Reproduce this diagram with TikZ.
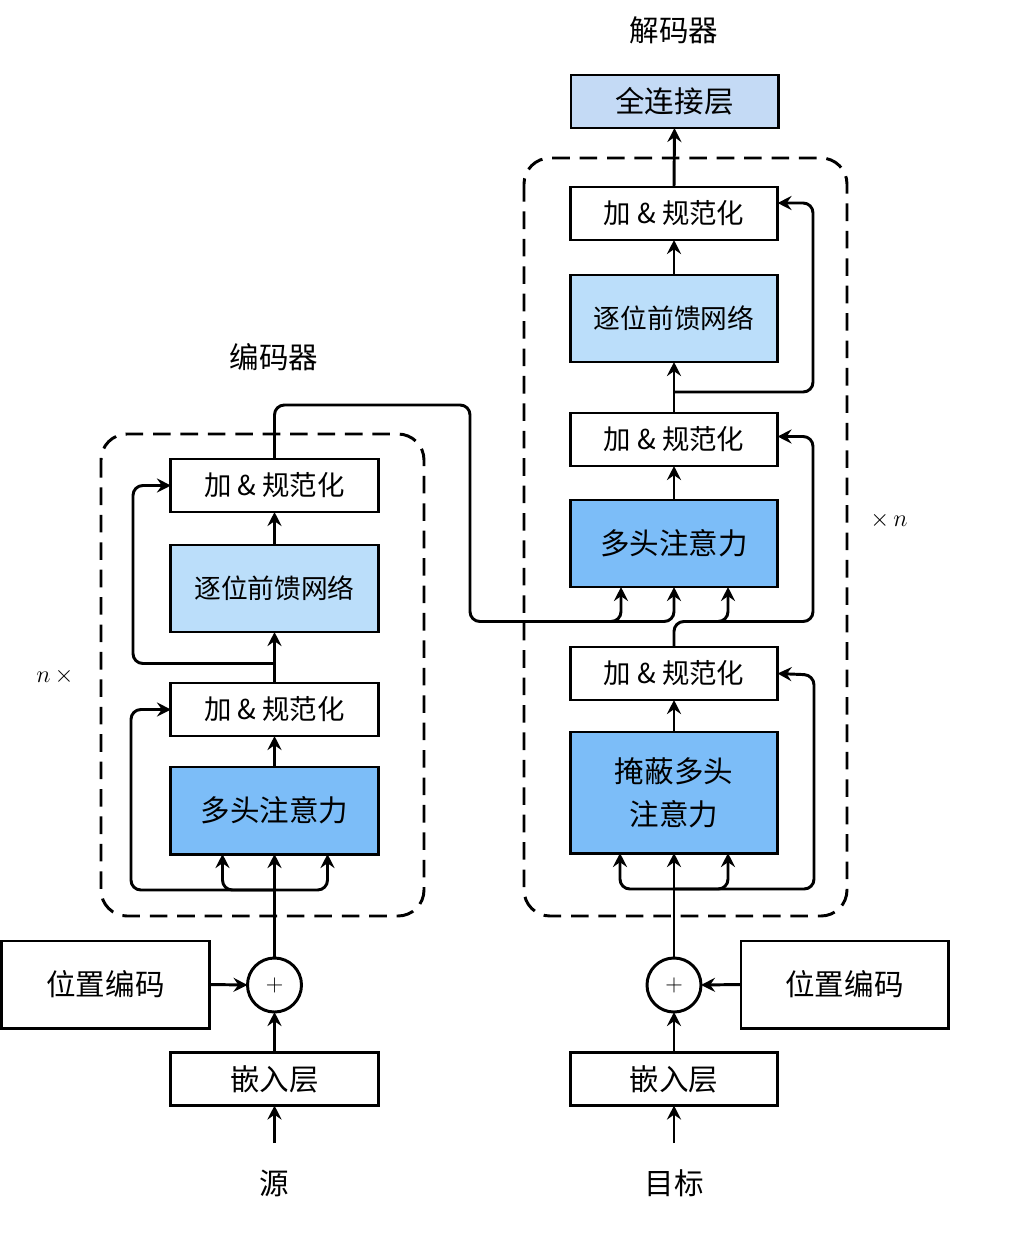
\documentclass[tikz,border=0pt]{standalone}
\usepackage{fontspec}
\newfontfamily\cjk{Noto Sans CJK SC}
\usetikzlibrary{arrows.meta,calc}
\definecolor{ffncol}{RGB}{187,222,250}
\definecolor{mhacol}{RGB}{124,189,248}
\definecolor{fccol}{RGB}{196,218,245}
\tikzset{
  box/.style={draw, line width=2.1pt, minimum width=5.175cm, minimum height=1.325cm, inner sep=0pt, outer sep=0pt, font=\cjk\fontsize{21}{26}\selectfont, align=center},
  anbox/.style={box, font=\cjk\fontsize{19.5}{24}\selectfont},
  tallbox/.style={box, minimum height=2.175cm},
  ffn/.style={tallbox, fill=ffncol, font=\cjk\fontsize{19}{24}\selectfont},
  mha/.style={tallbox, fill=mhacol},
  addc/.style={draw, circle, line width=2.1pt, minimum size=1.35cm, inner sep=0pt, outer sep=0pt, font=\fontsize{19}{24}\selectfont},
  lbl/.style={font=\cjk\fontsize{21}{26}\selectfont, inner sep=0pt},
  mlbl/.style={font=\fontsize{19}{22}\selectfont, inner sep=0pt},
  arr/.style={-{Stealth[length=10pt,width=10pt,inset=3.5pt]}, line width=2.1pt},
  rc/.style={rounded corners=7pt},
  dbox/.style={line width=2.1pt, dash pattern=on 12.5pt off 7pt, rounded corners=0.65cm}
}
\begin{document}
\begin{tikzpicture}[x=0.025cm,y=-0.025cm]
\useasboundingbox (0,0) rectangle (1010,1238);
% ---------- Encoder ----------
\draw[dbox] (101,434) rectangle (424,916);
\node[lbl] (eTitle) at (274,357) {编码器};
\node[mlbl] (nx) at (55,676) {$n\,\times$};
\node[anbox] (eAN2) at (274.5,485.5) {加 \& 规范化};
\node[ffn] (eFF) at (274.5,588.5) {逐位前馈网络};
\node[anbox] (eAN1) at (274.5,709.5) {加 \& 规范化};
\node[mha] (eMHA) at (274.5,810.5) {多头注意力};
\node[addc] (eplus) at (274.5,985) {$+$};
\node[tallbox] (ePE) at (105.5,984.5) {位置编码};
\node[box] (eEmb) at (274.5,1079) {嵌入层};
\node[lbl] (src) at (274.5,1183) {源};
\coordinate (srcin) at (274.5,1143);
\coordinate (eb1) at (274.5,890);
\coordinate (eb2) at (274.5,663.5);

\draw[arr] (srcin) -- (eEmb.south);
\draw[arr] (eEmb.north) -- (eplus.south);
\draw[arr] (ePE.east) -- (eplus.west);
\draw[arr] (eplus.north) -- (eMHA.south);
\draw[arr,rc] (eb1) -| ($(eMHA.south)+(-52,0)$);
\draw[arr,rc] (eb1) -| ($(eMHA.south)+(53,0)$);
\draw[arr,rc] (eb1) -| (131,709.5) -- (eAN1.west);
\draw[arr] (eMHA.north) -- (eAN1.south);
\draw[arr] (eAN1.north) -- (eFF.south);
\draw[arr,rc] (eb2) -| (133,485.5) -- (eAN2.west);
\draw[arr] (eFF.north) -- (eAN2.south);

% ---------- Decoder ----------
\draw[dbox] (524,158) rectangle (847,916);
\node[lbl] (dTitle) at (674,30) {解码器};
\node[mlbl] (xn) at (889,520) {$\times\, n$};
\node[box, fill=fccol] (dFC) at (674.5,101.5) {全连接层};
\node[anbox] (dAN3) at (674,213.5) {加 \& 规范化};
\node[ffn] (dFF) at (674,318.5) {逐位前馈网络};
\node[anbox] (dAN2) at (674,439.5) {加 \& 规范化};
\node[mha] (dMHA) at (674,543.5) {多头注意力};
\node[anbox] (dAN1) at (674,673.5) {加 \& 规范化};
\node[tallbox, fill=mhacol, minimum height=3.025cm, font=\cjk\fontsize{21}{30.5}\selectfont] (dMM) at (674,792.5) {掩蔽多头\\注意力};
\node[addc] (dplus) at (674,985) {$+$};
\node[tallbox] (dPE) at (844.5,984.5) {位置编码};
\node[box] (dEmb) at (674,1079) {嵌入层};
\node[lbl] (tgt) at (674,1183) {目标};
\coordinate (tgtin) at (674,1143);
\coordinate (db1) at (674,889);
\coordinate (db2) at (674,392);

\draw[arr] (tgtin) -- (dEmb.south);
\draw[arr] (dEmb.north) -- (dplus.south);
\draw[arr] (dPE.west) -- (dplus.east);
\draw[arr] (dplus.north) -- (dMM.south);
\draw[arr,rc] (db1) -| ($(dMM.south)+(-54,0)$);
\draw[arr,rc] (db1) -| ($(dMM.south)+(54,0)$);
\draw[arr,rc] (db1) -| (814,675) -- (dAN1.east);
\draw[arr] (dMM.north) -- (dAN1.south);
% encoder output to decoder attention
\draw[arr,rc] (eAN2.north) |- (470,405) |- (674,621.5) -- (dMHA.south);
\draw[arr,rc] (560,621.5) -| ($(dMHA.south)+(-53,0)$);
% decoder add-norm 1 to attention and residual
\draw[arr,rc] (dAN1.north) |- (813,621.5) |- ($(dAN2.east)+(0,-3)$);
\draw[arr,rc] (700,621.5) -| ($(dMHA.south)+(54,0)$);
\draw[arr] (dMHA.north) -- (dAN2.south);
\draw[arr] (dAN2.north) -- (dFF.south);
\draw[arr,rc] (db2) -| (813,203) -- ($(dAN3.east)+(0,-10.5)$);
\draw[arr] (dFF.north) -- (dAN3.south);
\draw[arr] (dAN3.north) -- (dFC.south);
\end{tikzpicture}
\end{document}
